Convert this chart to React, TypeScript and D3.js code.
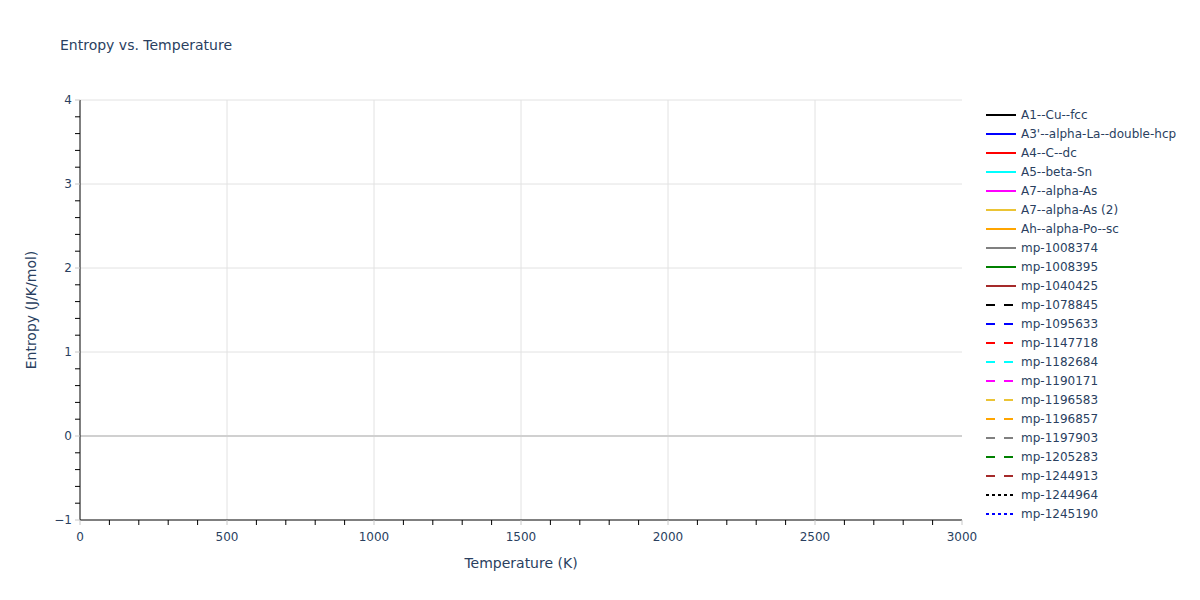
import React from "react";
import * as d3 from "d3";

const seriesNames = [
  "A1--Cu--fcc", "A3'--alpha-La--double-hcp", "A4--C--dc", "A5--beta-Sn", "A7--alpha-As",
  "A7--alpha-As (2)", "Ah--alpha-Po--sc", "mp-1008374", "mp-1008395", "mp-1040425",
  "mp-1078845", "mp-1095633", "mp-1147718", "mp-1182684", "mp-1190171", "mp-1196583",
  "mp-1196857", "mp-1197903", "mp-1205283", "mp-1244913", "mp-1244964", "mp-1245190",
];
const seriesColors = [
  "black", "blue", "red", "cyan", "magenta", "#EBC435", "orange", "gray", "green", "brown",
  "black", "blue", "red", "cyan", "magenta", "#EBC435", "orange", "gray", "green", "brown",
  "black", "blue",
];
const seriesDash = [
  "solid", "solid", "solid", "solid", "solid", "solid", "solid", "solid", "solid", "solid",
  "dash", "dash", "dash", "dash", "dash", "dash", "dash", "dash", "dash", "dash",
  "dot", "dot",
];
// No visible data in the reference: every series is empty.
const seriesTemps: number[][] = seriesNames.map(() => []);
const seriesEntropy: number[][] = seriesNames.map(() => []);

const xTicks = [0, 500, 1000, 1500, 2000, 2500, 3000];
const yTicks = [-1, 0, 1, 2, 3, 4];

const FONT = '"DejaVu Sans", Verdana, sans-serif';
const TXT = "#2a3f5f";

export default function App() {
  const W = 1200, H = 600;
  const L = 80, R = 962, T = 100, B = 520;
  const x = d3.scaleLinear().domain([0, 3000]).range([L, R]);
  const y = d3.scaleLinear().domain([-1, 4]).range([B, T]);
  const xMinor = d3.range(0, 3001, 100).filter((v) => v % 500 !== 0);
  const yMinor = d3.range(-1, 4.001, 0.2).map((v) => Math.round(v * 10) / 10).filter((v) => Math.abs(v - Math.round(v)) > 1e-6);
  const line = d3.line<[number, number]>().x((d) => x(d[0])).y((d) => y(d[1]));
  const dashArr = (d: string) => (d === "dash" ? "9,9" : d === "dot" ? "3,3" : undefined);

  return (
    <svg width={W} height={H} style={{ position: "absolute", left: 0, top: 0, background: "white" }} fontFamily={FONT}>
      <rect x={0} y={0} width={W} height={H} fill="white" />
      {/* grid */}
      {xTicks.filter((v) => v !== 0 && v !== 3000).map((v) => (
        <line key={"gx" + v} x1={x(v)} x2={x(v)} y1={T} y2={B} stroke="#e2e2e2" strokeWidth={1} />
      ))}
      {yTicks.filter((v) => v !== 0 && v !== -1).map((v) => (
        <line key={"gy" + v} x1={L} x2={R} y1={y(v)} y2={y(v)} stroke="#e2e2e2" strokeWidth={1} />
      ))}
      <line x1={L} x2={R} y1={y(0)} y2={y(0)} stroke="#d0d0d0" strokeWidth={2} />
      {/* traces */}
      {seriesNames.map((n, i) => (
        <path key={"s" + i} d={line(seriesTemps[i].map((t, j) => [t, seriesEntropy[i][j]] as [number, number])) || ""}
          fill="none" stroke={seriesColors[i]} strokeWidth={2} strokeDasharray={dashArr(seriesDash[i])} />
      ))}
      {/* axes lines */}
      <line x1={L} x2={L} y1={T} y2={B} stroke="black" strokeWidth={1} />
      <line x1={L} x2={R} y1={B} y2={B} stroke="black" strokeWidth={1} />
      {/* x ticks */}
      {xMinor.map((v) => (
        <line key={"xm" + v} x1={x(v)} x2={x(v)} y1={B} y2={B + 5} stroke="black" strokeWidth={1} />
      ))}
      {xTicks.map((v) => (
        <g key={"xt" + v}>
          <line x1={x(v)} x2={x(v)} y1={B} y2={B + 5} stroke="#c8c8c8" strokeWidth={1} />
          <text x={x(v)} y={B + 21} textAnchor="middle" fontSize={12} fill={TXT}>{v}</text>
        </g>
      ))}
      {/* y ticks */}
      {yMinor.map((v) => (
        <line key={"ym" + v} x1={L - 5} x2={L} y1={y(v)} y2={y(v)} stroke="black" strokeWidth={1} />
      ))}
      {yTicks.map((v) => (
        <g key={"yt" + v}>
          <line x1={L - 5} x2={L} y1={y(v)} y2={y(v)} stroke="#c8c8c8" strokeWidth={1} />
          <text x={L - 8} y={y(v) + 4} textAnchor="end" fontSize={12} fill={TXT}>{v < 0 ? "\u2212" + Math.abs(v) : v}</text>
        </g>
      ))}
      {/* titles */}
      <text x={60} y={50} fontSize={14} fill={TXT}>Entropy vs. Temperature</text>
      <text x={(L + R) / 2} y={568} textAnchor="middle" fontSize={14} fill={TXT}>Temperature (K)</text>
      <text transform={`translate(36,${(T + B) / 2}) rotate(-90)`} textAnchor="middle" fontSize={14} fill={TXT}>Entropy (J/K/mol)</text>
      {/* legend */}
      {seriesNames.map((n, i) => {
        const ly = 115 + i * 19;
        return (
          <g key={"lg" + i}>
            <line x1={986} x2={1016} y1={ly} y2={ly} stroke={seriesColors[i]} strokeWidth={2} strokeDasharray={dashArr(seriesDash[i])} />
            <text x={1021} y={ly + 4} fontSize={12} fill={TXT}>{n}</text>
          </g>
        );
      })}
    </svg>
  );
}
